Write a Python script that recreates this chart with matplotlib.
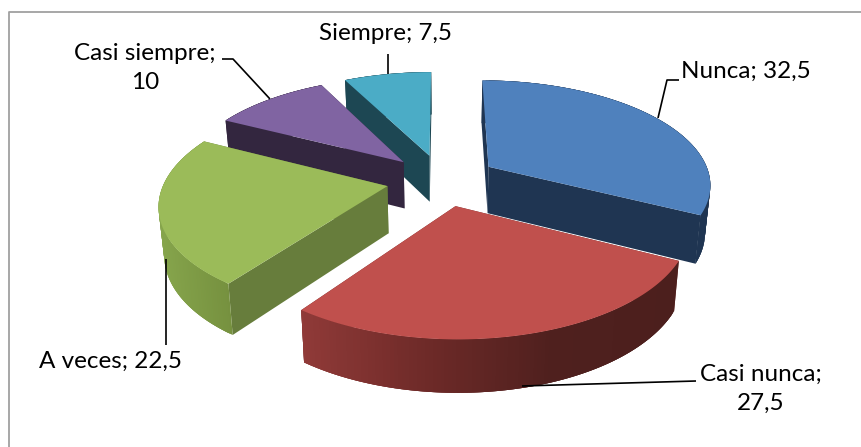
import numpy as np
import matplotlib
matplotlib.use("Agg")
import matplotlib.pyplot as plt
from matplotlib.colors import to_rgb

# the chart's values
categories = ["Nunca", "Casi nunca", "A veces", "Casi siempre", "Siempre"]
values = [32.5, 27.5, 22.5, 10, 7.5]

# colours per slice: top, flat cut faces, curved wall (left to right)
top_colors = ["#4F81BD", "#C0504D", "#9BBB59", "#8064A2", "#4BACC6"]
face_colors = ["#1F3552", "#6E2A28", "#677D3C", "#33263F", "#1D4753"]
wall_colors = [["#1F3552", "#1F3552"],
               ["#903A38", "#6E2A28", "#4F201E", "#4C1F1D"],
               ["#86A54C", "#76913F"],
               ["#33263F", "#33263F"],
               ["#1D4753", "#1D4753"]]

# pie geometry in pixels, fitted by eye against the picture
cx, cy = 442, 180
ax_x, ax_y = 222.5, 103.5
persp = 0.155
explode = 0.25
wall_h = 47
shrink = 0.98


def project(X, Y):
    s = 1 / (1 - persp * np.asarray(Y))
    return cx + ax_x * np.asarray(X) * s, cy + ax_y * np.asarray(Y) * s


def drop(x, y, Y):
    s = 1 / (1 - persp * np.asarray(Y))
    return cx + (x - cx) * shrink, y + wall_h * s ** 0.6


def shade(stops, t):
    rgb = np.array([to_rgb(c) for c in stops])
    pos = np.linspace(0, 1, len(stops))
    return [np.interp(t, pos, rgb[:, i]) for i in range(3)]


fig = plt.figure(figsize=(8.62, 4.47), dpi=100)
ax = fig.add_axes([0, 0, 1, 1])
ax.set_xlim(0, 862)
ax.set_ylim(447, 0)
ax.axis("off")

# chart frame, only left and top fall inside the crop
ax.plot([9, 9, 862], [447, 11.5, 11.5], color="#A0A0A0", lw=1.3)

# slices run clockwise from the top
edges = np.cumsum([0] + values) / sum(values) * 2 * np.pi
order = [4, 3, 0, 2, 1]  # back to front

for i in order:
    a0, a1 = edges[i], edges[i + 1]
    mid = (a0 + a1) / 2
    ox, oy = explode * np.sin(mid), -explode * np.cos(mid)
    t = np.linspace(a0, a1, 120)
    X = ox + np.sin(t)
    Y = oy - np.cos(t)
    x, y = project(X, Y)
    xb, yb = drop(x, y, Y)
    x0, y0 = project(ox, oy)
    xb0, yb0 = drop(x0, y0, oy)

    # flat cut faces
    ax.fill([x0, x[0], xb[0], xb0], [y0, y[0], yb[0], yb0],
            color=face_colors[i], lw=0)
    ax.fill([x0, x[-1], xb[-1], xb0], [y0, y[-1], yb[-1], yb0],
            color=face_colors[i], lw=0)

    # curved wall in overlapping strips so it can carry the gradient
    lo, hi = x.min(), x.max()
    for j in range(len(t) - 1):
        k = min(j + 3, len(t) - 1)
        c = shade(wall_colors[i], ((x[j] + x[j + 1]) / 2 - lo) / (hi - lo))
        ax.fill(np.r_[x[j:k + 1], xb[j:k + 1][::-1]],
                np.r_[y[j:k + 1], yb[j:k + 1][::-1]], color=c, lw=0)

    ax.fill(np.r_[x0, x], np.r_[y0, y], color=top_colors[i], lw=0)

# leader lines
leaders = [([658, 667, 679], [118, 80, 80]),
           ([522, 696], [386, 381]),
           ([166, 166], [259, 345]),
           ([222, 233, 270], [59, 59, 99]),
           ([388, 388], [54, 74])]
for lx, ly in leaders:
    ax.plot(lx, ly, color="black", lw=1.2, solid_capstyle="butt")

# data labels
label_text = ["{}; {}".format(c, str(v).replace(".", ",")) for c, v in zip(categories, values)]
label_text[1] = label_text[1].replace("; ", ";\n")
label_text[3] = label_text[3].replace("; ", ";\n")
label_pos = [(746, 71), (761, 389), (111, 361), (145, 68), (386, 33)]
for s, (lx, ly) in zip(label_text, label_pos):
    ax.text(lx, ly, s, family="Lato", fontsize=17.5, color="black", ha="center",
            va="center", linespacing=1.5)

fig.savefig("out.png", dpi=100)
